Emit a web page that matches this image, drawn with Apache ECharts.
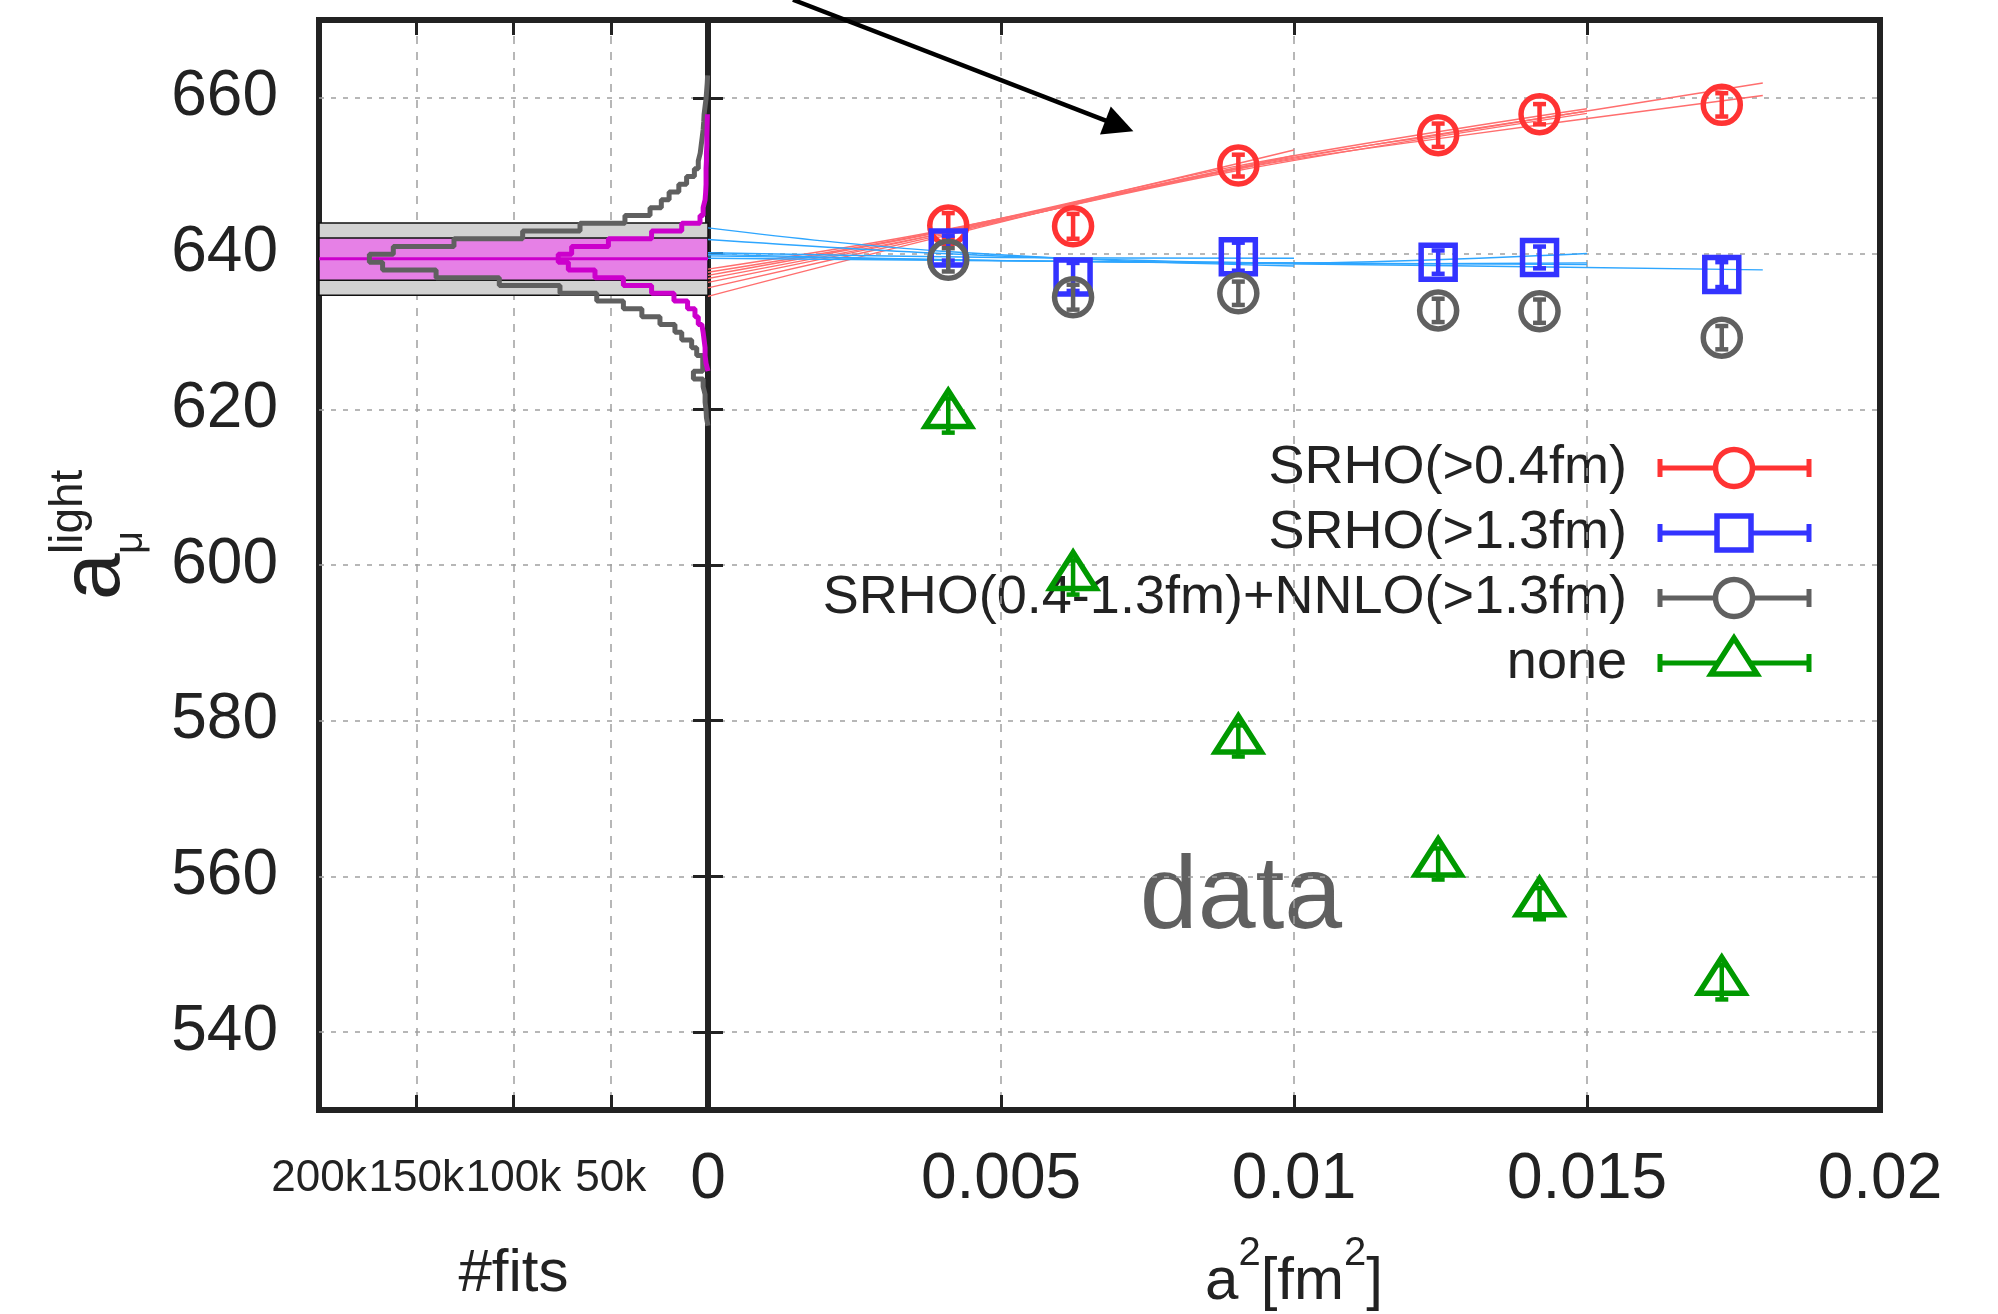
<!DOCTYPE html>
<html>
<head>
<meta charset="utf-8">
<title>a_mu light continuum extrapolation</title>
<script src="https://cdn.jsdelivr.net/npm/echarts@6/dist/echarts.min.js"></script>
<style>
  html, body { margin: 0; padding: 0; background: #fff; }
  #chart { width: 1998px; height: 1314px; }
</style>
</head>
<body>
<div id="chart"></div>
<script>
// lattice spacings, a^2 in fm^2
var a2 = [0.00410, 0.00623, 0.00905, 0.01246, 0.01419, 0.01730];

// a_mu^light per ensemble for each finite-size / taste treatment
var srho04 = [643.6, 643.5, 651.3, 655.2, 657.9, 659.1];
var srho04Err = [1.6, 1.6, 1.4, 1.5, 1.3, 1.5];
var srho13 = [640.7, 637.0, 639.6, 638.9, 639.5, 637.3];
var srho13Err = [1.6, 1.8, 1.8, 1.5, 1.4, 1.6];
var srhoNnlo = [639.2, 634.4, 634.9, 632.7, 632.6, 629.2];
var srhoNnloErr = [1.5, 1.6, 1.5, 1.5, 1.5, 1.5];
var noneCorr = [619.2, 598.4, 577.4, 561.6, 556.5, 546.4];
var noneCorrErr = [2.2, 2.2, 2.0, 2.0, 2.0, 2.2];

// a few of the continuum fits
var redFits = [
  [[0, 634.5], [0.004, 642.2], [0.009, 651.0], [0.0125, 655.3], [0.018, 661.9]],
  [[0, 635.6], [0.004, 642.4], [0.009, 650.8], [0.0125, 654.8], [0.018, 660.3]],
  [[0, 636.3], [0.004, 642.6], [0.009, 651.2], [0.015, 658.6]],
  [[0, 636.8], [0.004, 642.6], [0.009, 650.6], [0.015, 658.0]],
  [[0, 637.2], [0.004, 642.8], [0.009, 650.9], [0.015, 658.3]],
  [[0, 637.6], [0.004, 642.9], [0.010, 653.3]],
  [[0, 638.0], [0.004, 643.0], [0.010, 652.6]]
];
var blueFits = [
  [[0, 643.3], [0.002, 641.6], [0.004, 640.3], [0.007, 639.1], [0.010, 638.4]],
  [[0, 641.8], [0.004, 640.0], [0.008, 639.0], [0.012, 638.7], [0.015, 638.8]],
  [[0, 640.1], [0.005, 639.5], [0.010, 639.4]],
  [[0, 639.9], [0.005, 639.1], [0.010, 638.8], [0.015, 640.0]],
  [[0, 639.7], [0.006, 639.0], [0.012, 638.5], [0.018, 637.9]],
  [[0, 639.4], [0.008, 638.9], [0.015, 638.6]]
];

// histogram of fit results (counts in thousands), bins of width 1
var binWidth = 1.0;
var binLow = [617.9, 618.9, 619.9, 620.9, 621.9, 622.9, 623.9, 624.9, 625.9, 626.9,
              627.9, 628.9, 629.9, 630.9, 631.9, 632.9, 633.9, 634.9, 635.9, 636.9,
              637.9, 638.9, 639.9, 640.9, 641.9, 642.9, 643.9, 644.9, 645.9, 646.9,
              647.9, 648.9, 649.9, 650.9, 651.9, 652.9, 653.9, 654.9, 655.9, 656.9,
              657.9, 658.9, 659.9, 660.9, 661.9];
var fitsAll = [0.8, 1.0, 1.5, 1.5, 2.5, 2.5, 7.5, 2.7, 2.7, 5.8,
               8.4, 13.5, 17.0, 24.7, 34.0, 43.5, 57.2, 76.1, 107.3, 139.8,
               167.3, 174.1, 161.8, 130.6, 95.3, 65.8, 42.7, 29.8, 24.0, 20.0,
               15.0, 11.0, 7.0, 5.0, 4.0, 3.5, 3.0, 2.5, 2.2, 2.0,
               1.5, 1.0, 0.7, 0.4, 0.2];
var fitsSel = [0, 0, 0, 0, 0, 0, 0, 1.0, 1.5, 1.5,
               2.0, 2.5, 3.2, 5.0, 6.7, 10.5, 17.5, 29.0, 43.5, 58.1,
               71.8, 77.0, 70.1, 51.2, 29.0, 13.5, 4.1, 2.5, 1.5, 1.2,
               1.0, 1.0, 1.0, 0.8, 0.8, 0.6, 0.6, 0.5, 0.4, 0.3,
               0, 0, 0, 0, 0];

// final result: central value, statistical and total ranges
var fitCentral = 639.32;
var fitStatRange = [636.58, 642.01];
var fitTotalRange = [634.66, 643.93];

var yTicksMin = 530, yTicksMax = 670;
var legendNames = ['SRHO(>0.4fm)', 'SRHO(>1.3fm)', 'SRHO(0.4-1.3fm)+NNLO(>1.3fm)', 'none'];

var RED = '#ff3333', BLUE = '#3333ff', GRAY = '#606060', GREEN = '#009900';
var FONT = '"Liberation Sans", Arial, sans-serif';

var chart = echarts.init(document.getElementById('chart'));

function stepPoints(counts) {
  var first = -1, last = -1;
  for (var i = 0; i < counts.length; i++) {
    if (counts[i] > 0) { if (first < 0) first = i; last = i; }
  }
  var pts = [[0, binLow[first]]];
  for (var j = first; j <= last; j++) {
    pts.push([counts[j], binLow[j]]);
    pts.push([counts[j], binLow[j] + binWidth]);
  }
  pts.push([0, binLow[last] + binWidth]);
  return pts;
}

// point symbol (unfilled) drawn around a pixel position
function symbolShape(kind, cx, cy, color) {
  var st = { fill: 'none', stroke: color, lineWidth: 5.5 };
  if (kind === 'circle') return { type: 'circle', shape: { cx: cx, cy: cy, r: 18.5 }, style: st };
  if (kind === 'rect') return { type: 'rect', shape: { x: cx - 17, y: cy - 17, width: 34, height: 34 }, style: st };
  return { type: 'polygon', shape: { points: [[cx, cy - 25], [cx - 23, cy + 11], [cx + 23, cy + 11]] }, style: st };
}

// one custom series per data set: error bar with caps plus the symbol
function pointSeries(vals, errs, color, kind) {
  return {
    type: 'custom', xAxisIndex: 2, yAxisIndex: 2, z: 4, silent: true,
    data: a2.map(function (x, i) { return [x, vals[i], errs[i]]; }),
    renderItem: function (params, api) {
      var x = api.value(0), y = api.value(1), e = api.value(2);
      var c = api.coord([x, y]);
      var t = api.coord([x, y + e]), b = api.coord([x, y - e]);
      var w = 6.5, st = { stroke: color, lineWidth: 4.5 };
      return { type: 'group', children: [
        { type: 'line', shape: { x1: t[0], y1: t[1], x2: b[0], y2: b[1] }, style: st },
        { type: 'line', shape: { x1: t[0] - w, y1: t[1], x2: t[0] + w, y2: t[1] }, style: st },
        { type: 'line', shape: { x1: b[0] - w, y1: b[1], x2: b[0] + w, y2: b[1] }, style: st },
        symbolShape(kind, c[0], c[1], color)
      ]};
    }
  };
}

function fitLine(pts, color) {
  return {
    type: 'line', xAxisIndex: 2, yAxisIndex: 2, z: 2, silent: true,
    data: pts, smooth: 0.35, showSymbol: false,
    lineStyle: { color: color, width: 1.4 }
  };
}

var tickStyle = { show: true, inside: true, length: 15, lineStyle: { color: '#222', width: 3 } };
var vGrid = { show: true, showMinLine: false, showMaxLine: false,
  lineStyle: { color: '#a0a0a0', width: 1.5, type: [8, 8] } };
var hGrid = { show: true, showMinLine: false, showMaxLine: false,
  lineStyle: { color: '#a0a0a0', width: 1.5, type: [5, 7] } };
var labelStyle = { color: '#222', fontFamily: FONT, fontSize: 64 };

var series = [];

// bands for the final result
series.push({
  type: 'custom', xAxisIndex: 0, yAxisIndex: 0, z: 1, silent: true,
  data: [[fitTotalRange[0], fitTotalRange[1], 0], [fitStatRange[0], fitStatRange[1], 1]],
  renderItem: function (params, api) {
    var lo = api.value(0), hi = api.value(1), kind = api.value(2);
    var p1 = api.coord([200, hi]), p2 = api.coord([0, lo]);
    var children = [{
      type: 'rect',
      shape: { x: p1[0], y: p1[1], width: p2[0] - p1[0], height: p2[1] - p1[1] },
      style: { fill: kind === 0 ? '#d2d2d2' : '#e680e6', stroke: '#111', lineWidth: 1.5 }
    }];
    if (kind === 1) {
      var c1 = api.coord([200, fitCentral]), c2 = api.coord([0, fitCentral]);
      children.push({ type: 'line', shape: { x1: c1[0], y1: c1[1], x2: c2[0], y2: c2[1] },
        style: { stroke: '#cc00cc', lineWidth: 3 } });
    }
    return { type: 'group', children: children };
  }
});

series.push({
  type: 'line', xAxisIndex: 0, yAxisIndex: 0, z: 3, silent: true, showSymbol: false,
  data: stepPoints(fitsAll), lineStyle: { color: GRAY, width: 5 }
});
series.push({
  type: 'line', xAxisIndex: 0, yAxisIndex: 0, z: 3, silent: true, showSymbol: false,
  data: stepPoints(fitsSel), lineStyle: { color: '#cc00cc', width: 5 }
});

redFits.forEach(function (p) { series.push(fitLine(p, '#ff6e6e')); });
blueFits.forEach(function (p) { series.push(fitLine(p, '#2ea6ff')); });

series.push(pointSeries(srho04, srho04Err, RED, 'circle'));
series.push(pointSeries(srho13, srho13Err, BLUE, 'rect'));
series.push(pointSeries(srhoNnlo, srhoNnloErr, GRAY, 'circle'));
series.push(pointSeries(noneCorr, noneCorrErr, GREEN, 'triangle'));

// annotation arrow coming in from above the frame
series.push({
  type: 'lines', coordinateSystem: 'cartesian2d', xAxisIndex: 2, yAxisIndex: 2,
  clip: false, z: 6, silent: true,
  symbol: ['none', 'triangle'], symbolSize: [0, 30],
  lineStyle: { color: '#000', width: 4.5, opacity: 1 },
  data: [{ coords: [[0.00145, 672.6], [0.00702, 656.4]] }]
});

// hand-drawn key, gnuplot style (text left of sample)
var graphics = [];
var legendColors = [RED, BLUE, GRAY, GREEN];
var legendShapes = ['circle', 'rect', 'circle', 'triangle'];
var rowY = [468, 533, 598, 663];
legendNames.forEach(function (name, i) {
  var y = rowY[i], c = legendColors[i], cx = 1734;
  graphics.push({ type: 'text', x: 1627, y: y, silent: true,
    style: { text: name, fontFamily: FONT, fontSize: 54, fill: '#222', align: 'right', verticalAlign: 'middle' } });
  graphics.push({ type: 'line', silent: true, shape: { x1: 1658, y1: y, x2: 1811, y2: y }, style: { stroke: c, lineWidth: 5 } });
  graphics.push({ type: 'line', silent: true, shape: { x1: 1660, y1: y - 9, x2: 1660, y2: y + 9 }, style: { stroke: c, lineWidth: 5 } });
  graphics.push({ type: 'line', silent: true, shape: { x1: 1809, y1: y - 9, x2: 1809, y2: y + 9 }, style: { stroke: c, lineWidth: 5 } });
  var sym = symbolShape(legendShapes[i], cx, y, c);
  sym.silent = true;
  sym.style.fill = '#fff';
  graphics.push(sym);
});

graphics.push({ type: 'text', x: 1241, y: 899, silent: true,
  style: { text: 'data', fontFamily: FONT, fontSize: 104, fill: '#606060', align: 'center', verticalAlign: 'middle' } });

// y axis title a_mu^light, rotated
graphics.push({
  type: 'group', x: 0, y: 600, rotation: Math.PI / 2, silent: true,
  children: [
    { type: 'text', x: 0, y: 96, style: { text: 'a', fontFamily: FONT, fontSize: 84, fill: '#222', align: 'left', verticalAlign: 'middle' } },
    { type: 'text', x: 46, y: 69, style: { text: 'light', fontFamily: FONT, fontSize: 46, fill: '#222', align: 'left', verticalAlign: 'middle' } },
    { type: 'text', x: 46, y: 131, style: { text: 'μ', fontFamily: FONT, fontSize: 40, fill: '#222', align: 'left', verticalAlign: 'middle' } }
  ]
});

var gridBase = { show: true, borderColor: '#222', borderWidth: 6, backgroundColor: 'transparent', outerBoundsMode: 'none', containLabel: false };

chart.setOption({
  animation: false,
  backgroundColor: '#fff',
  grid: [
    Object.assign({ left: 319, width: 389, top: 20, bottom: 204 }, gridBase),
    Object.assign({ left: 708, right: 118, top: 20, bottom: 204 }, gridBase)
  ],
  xAxis: [
    { type: 'value', gridIndex: 0, position: 'bottom', inverse: true, min: 0, max: 200, interval: 50,
      axisLine: { show: false }, axisTick: tickStyle, splitLine: vGrid,
      axisLabel: { color: '#222', fontFamily: FONT, fontSize: 44, margin: 47,
        formatter: function (v) { return v === 0 ? '' : v + 'k'; } },
      name: '#fits', nameLocation: 'middle', nameGap: 134,
      nameTextStyle: { color: '#222', fontFamily: FONT, fontSize: 60 } },
    { type: 'value', gridIndex: 0, position: 'top', inverse: true, min: 0, max: 200, interval: 50,
      axisLine: { show: false }, axisTick: tickStyle, splitLine: { show: false }, axisLabel: { show: false } },
    { type: 'value', gridIndex: 1, position: 'bottom', min: 0, max: 0.02, interval: 0.005,
      axisLine: { show: false }, axisTick: tickStyle, splitLine: vGrid,
      axisLabel: Object.assign({ margin: 38, formatter: function (v) { return String(+v.toFixed(3)); } }, labelStyle),
      name: '{b|a}{s|2}{b|[fm}{s|2}{b|]}', nameLocation: 'middle', nameGap: 124,
      nameTextStyle: { rich: {
        b: { color: '#222', fontFamily: FONT, fontSize: 60, padding: [18, 0, 0, 0], verticalAlign: 'bottom' },
        s: { color: '#222', fontFamily: FONT, fontSize: 40, verticalAlign: 'top' }
      } } },
    { type: 'value', gridIndex: 1, position: 'top', min: 0, max: 0.02, interval: 0.005,
      axisLine: { show: false }, axisTick: tickStyle, splitLine: { show: false }, axisLabel: { show: false } }
  ],
  yAxis: [
    { type: 'value', gridIndex: 0, position: 'left', min: yTicksMin, max: yTicksMax, splitNumber: 7,
      axisLine: { show: false }, axisTick: tickStyle, splitLine: hGrid,
      axisLabel: Object.assign({ margin: 41, showMinLabel: false, showMaxLabel: false }, labelStyle) },
    { type: 'value', gridIndex: 0, position: 'right', min: yTicksMin, max: yTicksMax, splitNumber: 7,
      axisLine: { show: false }, axisTick: tickStyle, splitLine: { show: false }, axisLabel: { show: false } },
    { type: 'value', gridIndex: 1, position: 'left', min: yTicksMin, max: yTicksMax, splitNumber: 7,
      axisLine: { show: false }, axisTick: tickStyle, splitLine: hGrid, axisLabel: { show: false } },
    { type: 'value', gridIndex: 1, position: 'right', min: yTicksMin, max: yTicksMax, splitNumber: 7,
      axisLine: { show: false }, axisTick: tickStyle, splitLine: { show: false }, axisLabel: { show: false } }
  ],
  graphic: graphics,
  series: series
});
</script>
</body>
</html>
